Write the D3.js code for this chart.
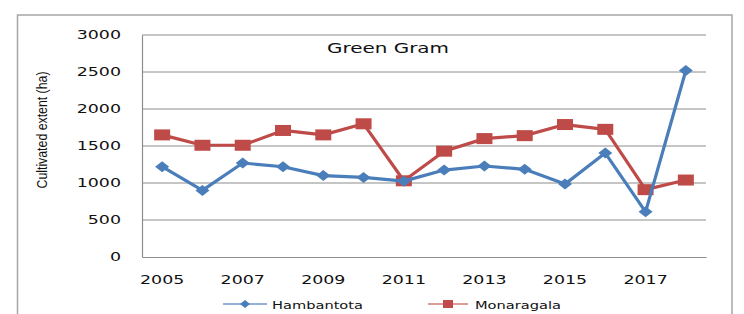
<!DOCTYPE html>
<html>
<head>
<meta charset="utf-8">
<script src="https://cdn.jsdelivr.net/npm/d3@7"></script>
<style>
  html, body { margin: 0; padding: 0; background: #fff; }
  svg { display: block; }
</style>
</head>
<body>
<div id="chart"></div>
<script>
// data
const years = [2005, 2006, 2007, 2008, 2009, 2010, 2011, 2012, 2013, 2014, 2015, 2016, 2017, 2018];
const hambantota = [1220, 900, 1270, 1220, 1100, 1075, 1025, 1175, 1230, 1185, 985, 1405, 610, 2520];
const monaragala = [1650, 1510, 1510, 1710, 1650, 1800, 1030, 1430, 1600, 1640, 1790, 1725, 910, 1040];
const yTicks = [0, 500, 1000, 1500, 2000, 2500, 3000];
const xLabelYears = [2005, 2007, 2009, 2011, 2013, 2015, 2017];
const chartTitle = 'Green Gram';
const yLabel = 'Cultivated extent (ha)';
const seriesNames = ['Hambantota', 'Monaragala'];

const width = 744;
const height = 314;
const marginTop = 35; // top of plot area
const marginLeft = 142;
const marginRight = 38;
const marginBottom = 57;

const blue = '#4a7ebb';
const red = '#be4b48';
const gridColor = '#8c8c8c';
const font = '"DejaVu Sans", Verdana, sans-serif';

// text in the reference is stretched sideways, so widen glyphs
function stretch(sel, sx) {
  sel.each(function () {
    const w = this.getComputedTextLength();
    d3.select(this).attr('textLength', w * sx).attr('lengthAdjust', 'spacingAndGlyphs');
  });
}

const svg = d3.select('#chart')
  .append('svg')
  .attr('width', width)
  .attr('height', height);

// outer chart frame (runs off the bottom)
svg.append('rect')
  .attr('x', 17.5)
  .attr('y', 15)
  .attr('width', 714.5)
  .attr('height', 330)
  .attr('fill', 'none')
  .attr('stroke', '#a6a6a6')
  .attr('stroke-width', 1.5);

const xScale = d3.scaleBand(years, [marginLeft, width - marginRight]).padding(0);
const yScale = d3.scaleLinear([0, 3000], [height - marginBottom, marginTop]);

// gridlines
svg.append('g')
  .selectAll('line')
  .data(yTicks.filter(d => d > 0))
  .join('line')
  .attr('x1', marginLeft)
  .attr('x2', width - marginRight)
  .attr('y1', d => yScale(d))
  .attr('y2', d => yScale(d))
  .attr('stroke', gridColor)
  .attr('stroke-width', 1);

// y axis
const gY = svg.append('g')
  .attr('transform', `translate(${marginLeft},0)`)
  .call(d3.axisLeft(yScale).tickValues(yTicks).tickFormat(d3.format('d')).tickSize(0).tickPadding(21));
gY.select('.domain').attr('stroke', gridColor).attr('stroke-width', 1.2);
gY.selectAll('text')
  .attr('font-family', font)
  .attr('font-size', 12)
  .attr('fill', '#111');
stretch(gY.selectAll('text'), 1.45);

// x axis
const gX = svg.append('g')
  .attr('transform', `translate(0,${yScale(0)})`)
  .call(d3.axisBottom(xScale).tickValues(xLabelYears).tickSize(0));
gX.select('.domain').attr('stroke', gridColor).attr('stroke-width', 1.2);
gX.selectAll('text')
  .attr('y', 27)
  .attr('dy', null)
  .attr('font-family', font)
  .attr('font-size', 12)
  .attr('fill', '#111');
stretch(gX.selectAll('text'), 1.45);

// y label
svg.append('text')
  .attr('transform', 'translate(47,130) rotate(-90)')
  .attr('text-anchor', 'middle')
  .attr('font-family', '"Liberation Sans Narrow", "Liberation Sans", sans-serif')
  .attr('font-size', 15)
  .attr('fill', '#111')
  .text(yLabel)
  .attr('textLength', 117)
  .attr('lengthAdjust', 'spacingAndGlyphs');

// title
svg.append('text')
  .attr('x', 388)
  .attr('y', 53)
  .attr('text-anchor', 'middle')
  .attr('font-family', font)
  .attr('font-size', 14)
  .attr('fill', '#111')
  .text(chartTitle)
  .attr('textLength', 122)
  .attr('lengthAdjust', 'spacingAndGlyphs');

const cx = (d, i) => xScale(years[i]) + xScale.bandwidth() / 2;
const line = d3.line().x((d, i) => cx(d, i)).y(d => yScale(d));

// Monaragala (drawn first, Hambantota sits on top)
svg.append('path')
  .attr('d', line(monaragala))
  .attr('fill', 'none')
  .attr('stroke', red)
  .attr('stroke-width', 3.2)
  .attr('stroke-linejoin', 'round');
svg.append('g')
  .selectAll('rect')
  .data(monaragala)
  .join('rect')
  .attr('x', (d, i) => cx(d, i) - 8)
  .attr('y', d => yScale(d) - 5.5)
  .attr('width', 16)
  .attr('height', 11)
  .attr('fill', red);

// Hambantota
svg.append('path')
  .attr('d', line(hambantota))
  .attr('fill', 'none')
  .attr('stroke', blue)
  .attr('stroke-width', 3.2)
  .attr('stroke-linejoin', 'round');
svg.append('g')
  .selectAll('path')
  .data(hambantota)
  .join('path')
  .attr('transform', (d, i) => `translate(${cx(d, i)},${yScale(d)})`)
  .attr('d', 'M0,-5.5L7,0L0,5.5L-7,0Z')
  .attr('fill', blue);

// legend
const legendY = 304;
const legend = svg.append('g');
legend.append('line')
  .attr('x1', 223).attr('x2', 267)
  .attr('y1', legendY).attr('y2', legendY)
  .attr('stroke', '#6f97cc').attr('stroke-width', 1.5);
legend.append('path')
  .attr('transform', `translate(245,${legendY})`)
  .attr('d', 'M0,-4L5,0L0,4L-5,0Z')
  .attr('fill', blue);
legend.append('text')
  .attr('x', 272).attr('y', legendY + 4.5)
  .attr('font-family', font).attr('font-size', 11).attr('fill', '#111')
  .text(seriesNames[0])
  .attr('textLength', 91).attr('lengthAdjust', 'spacingAndGlyphs');

legend.append('line')
  .attr('x1', 428).attr('x2', 468)
  .attr('y1', legendY).attr('y2', legendY)
  .attr('stroke', '#d27a78').attr('stroke-width', 1.5);
legend.append('rect')
  .attr('x', 443).attr('y', legendY - 4)
  .attr('width', 10).attr('height', 8)
  .attr('fill', red);
legend.append('text')
  .attr('x', 475).attr('y', legendY + 4.5)
  .attr('font-family', font).attr('font-size', 11).attr('fill', '#111')
  .text(seriesNames[1])
  .attr('textLength', 86).attr('lengthAdjust', 'spacingAndGlyphs');
</script>
</body>
</html>
